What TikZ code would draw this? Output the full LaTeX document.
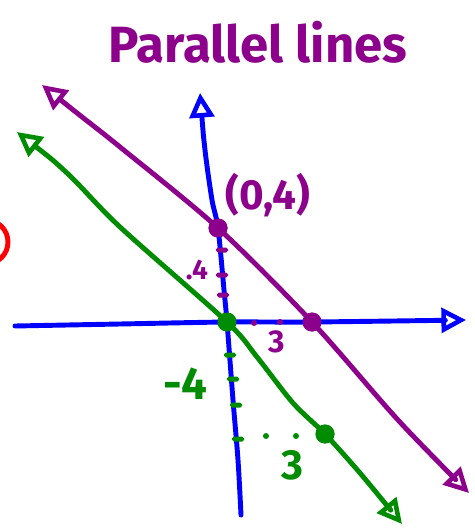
\documentclass[tikz,border=0pt]{standalone}
\usepackage{fontspec}
\setsansfont{Fira Sans}
\usetikzlibrary{arrows.meta,positioning}
\definecolor{penpurple}{RGB}{140,0,140}
\definecolor{pengreen}{RGB}{0,140,0}
\definecolor{penblue}{RGB}{0,0,255}
\definecolor{penred}{RGB}{255,0,0}
\tikzset{
  pen/.style={line width=2.8pt,line cap=round,line join=round},
  opentip/.tip={Triangle[open,length=14pt,width=14pt,line width=2.6pt]},
  dot/.style={circle,fill=#1,inner sep=0pt,minimum size=0.38cm},
  speck/.style={circle,fill=#1,inner sep=0pt,minimum size=0.12cm},
  tick/.style={fill=#1,rounded corners=1pt,inner sep=0pt,minimum width=0.24cm,minimum height=0.1cm},
  hand/.style={text=#1,font=\sffamily\bfseries\fontsize{24}{28}\selectfont,inner sep=0pt},
}

\begin{document}
\begin{tikzpicture}[x=0.02cm,y=-0.02cm]
  \useasboundingbox (0,0) rectangle (474,530);
  \clip (0,0) rectangle (474,530);
  % points
  \coordinate (ytop) at (200,93);
  \coordinate (ybot) at (241,515);
  \coordinate (xl) at (15,326);
  \coordinate (xr) at (466,320);
  \node[dot=penpurple] (yint) at (218,228) {};
  \node[dot=penpurple] (xint) at (312,322) {};
  \node[dot=pengreen] (org) at (227,322) {};
  \node[dot=pengreen] (gpt) at (325,434) {};
  \coordinate (pa) at (42,85);
  \coordinate (pz) at (469,493);
  \coordinate (ga) at (17,132);
  \coordinate (gz) at (402,524);
  % axes
  \draw[pen,penblue,opentip-] plot[smooth] coordinates
    {(ytop) (205,150) (212,200) (yint.center) (224,290) (org.center) (233,400) (238,460) (ybot)};
  \draw[pen,penblue,-opentip] plot[smooth] coordinates
    {(xl) (120,324) (org.center) (xint.center) (xr)};
  % the two lines
  \draw[pen,penpurple,opentip-opentip] plot[smooth] coordinates
    {(pa) (77,113) (120,147) (yint.center) (xint.center) (398,420) (pz)};
  \draw[pen,pengreen,opentip-opentip] plot[smooth] coordinates
    {(ga) (67,173) (120,227) (org.center) (257,357) (293,403) (gpt.center) (360,473) (gz)};
  % dots again on top
  \node[dot=penpurple] at (yint) {};
  \node[dot=penpurple] at (xint) {};
  \node[dot=pengreen] at (org) {};
  \node[dot=pengreen] at (gpt) {};
  % rise and run marks
  \node[tick=penpurple] (pt1) at (222,250) {};
  \node[tick=penpurple] (pt2) at (222,275) {};
  \node[tick=penpurple] (pt3) at (223,295) {};
  \node[speck=penpurple] (ps1) at (254,323) {};
  \node[speck=penpurple] (ps2) at (280,322) {};
  \node[tick=pengreen] (gt1) at (230,355) {};
  \node[tick=pengreen] (gt2) at (233,379) {};
  \node[tick=pengreen] (gt3) at (236,405) {};
  \node[tick=pengreen] (gt4) at (238,439) {};
  \node[speck=pengreen] (gs1) at (266,436) {};
  \node[speck=pengreen] (gs2) at (296,436) {};
  % labels
  \node[hand=penpurple,font=\sffamily\bfseries\fontsize{29}{34}\selectfont] (title) at (258,42) {Parallel lines};
  \node[hand=penpurple] (ylab) at (268,195) {(0,4)};
  \node[hand=penpurple,font=\sffamily\bfseries\fontsize{16}{20}\selectfont] (rise) at (197,270) {.4};
  \node[hand=penpurple,font=\sffamily\bfseries\fontsize{18}{20}\selectfont] (run) at (277,342) {3};
  \node[hand=pengreen,font=\sffamily\bfseries\fontsize{26}{30}\selectfont] (grise) at (185,384) {-4};
  \node[hand=pengreen] (grun) at (292,465) {3};
  % red mark at the edge
  \draw[pen,penred] (-14,242) circle[radius=0.44cm];
\end{tikzpicture}
\end{document}
